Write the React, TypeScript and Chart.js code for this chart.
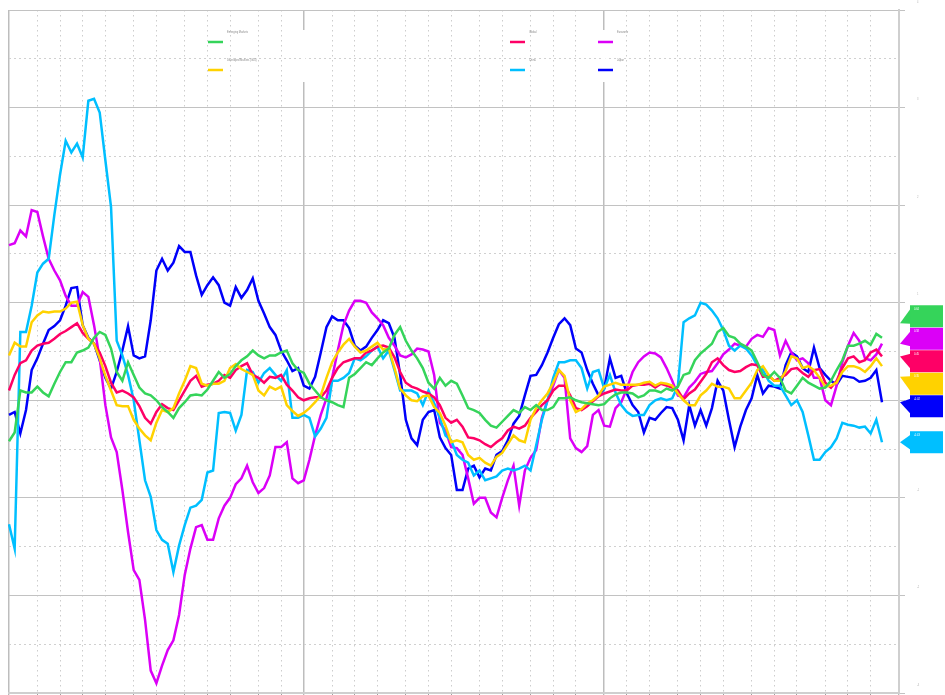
import React, { useEffect, useRef } from 'react';
import { Chart, registerables } from 'chart.js';

Chart.register(...registerables);

// ---------- categories (weekly, Fridays) ----------
const START_DATE = '2015-01-02';
const WEEK_COUNT = 158;

function buildWeekLabels(): string[] {
  const out: string[] = [];
  const d0 = new Date(START_DATE + 'T00:00:00Z').getTime();
  for (let i = 0; i < WEEK_COUNT; i++) {
    out.push(new Date(d0 + i * 7 * 86400000).toISOString().slice(0, 10));
  }
  return out;
}
const weekLabels = buildWeekLabels();

// ---------- series ----------
const seriesNames = [
  'Emerging Markets',
  'Developed Markets (G10)',
  'Global',
  'China',
  'Eurozone',
  'Japan',
];
const seriesColors = ['#35d45a', '#ffd200', '#fe0066', '#00bfff', '#db00f7', '#0000fa'];

const emergingMarkets = [
  -0.42, -0.33, 0.10, 0.08, 0.08, 0.14, 0.08, 0.04, 0.17, 0.29,
  0.39, 0.39, 0.49, 0.51, 0.54, 0.64, 0.70, 0.67, 0.53, 0.29,
  0.20, 0.39, 0.26, 0.13, 0.07, 0.05, 0, -0.07, -0.12, -0.18,
  -0.08, -0.02, 0.05, 0.06, 0.05, 0.11, 0.20, 0.29, 0.23, 0.27,
  0.35, 0.41, 0.45, 0.51, 0.46, 0.43, 0.46, 0.46, 0.49, 0.51,
  0.38, 0.31, 0.28, 0.17, 0.10, 0.03, 0, -0.02, -0.05, -0.07,
  0.23, 0.27, 0.33, 0.39, 0.36, 0.43, 0.49, 0.53, 0.67, 0.75,
  0.61, 0.51, 0.43, 0.33, 0.18, 0.12, 0.23, 0.15, 0.20, 0.17,
  0.05, -0.08, -0.10, -0.13, -0.20, -0.26, -0.28, -0.22, -0.16, -0.10,
  -0.13, -0.07, -0.10, -0.05, -0.10, -0.10, -0.07, 0.02, 0.02, 0.03,
  0, -0.02, -0.03, -0.04, -0.05, -0.04, 0.02, 0.06, 0.08, 0.08,
  0.07, 0.03, 0.05, 0.10, 0.10, 0.08, 0.12, 0.10, 0.14, 0.26,
  0.28, 0.41, 0.48, 0.53, 0.58, 0.70, 0.74, 0.66, 0.64, 0.58,
  0.55, 0.51, 0.39, 0.26, 0.23, 0.29, 0.23, 0.10, 0.07, 0.15,
  0.23, 0.18, 0.15, 0.12, 0.13, 0.20, 0.31, 0.41, 0.56, 0.56,
  0.58, 0.61, 0.57, 0.68, 0.64,
];

const developedG10 = [
  0.46, 0.59, 0.55, 0.55, 0.80, 0.87, 0.91, 0.90, 0.91, 0.91,
  0.94, 1.00, 1.01, 0.77, 0.63, 0.58, 0.43, 0.25, 0.10, -0.05,
  -0.06, -0.06, -0.20, -0.29, -0.36, -0.41, -0.23, -0.10, -0.12, -0.08,
  0.07, 0.20, 0.35, 0.33, 0.17, 0.15, 0.17, 0.17, 0.20, 0.33,
  0.37, 0.32, 0.29, 0.26, 0.10, 0.05, 0.14, 0.11, 0.14, -0.05,
  -0.11, -0.16, -0.13, -0.08, -0.02, 0.05, 0.23, 0.39, 0.49, 0.57,
  0.63, 0.55, 0.49, 0.51, 0.55, 0.59, 0.52, 0.53, 0.33, 0.12,
  0.05, 0, -0.01, 0.04, 0.05, -0.07, -0.13, -0.26, -0.43, -0.41,
  -0.43, -0.56, -0.61, -0.59, -0.64, -0.67, -0.58, -0.54, -0.45, -0.36,
  -0.41, -0.43, -0.20, -0.08, 0, 0.07, 0.18, 0.31, 0.25, 0,
  -0.12, -0.09, -0.03, 0, 0.05, 0.14, 0.16, 0.18, 0.16, 0.16,
  0.16, 0.16, 0.18, 0.19, 0.15, 0.18, 0.17, 0.15, 0.07, 0,
  -0.05, -0.05, 0.05, 0.10, 0.17, 0.14, 0.14, 0.12, 0.02, 0.02,
  0.10, 0.18, 0.31, 0.35, 0.26, 0.20, 0.20, 0.30, 0.45, 0.43,
  0.33, 0.35, 0.31, 0.23, 0.14, 0.15, 0.18, 0.29, 0.35, 0.35,
  0.33, 0.29, 0.35, 0.43, 0.35,
];

const globalIndex = [
  0.10, 0.26, 0.38, 0.41, 0.51, 0.56, 0.58, 0.59, 0.63, 0.68,
  0.71, 0.75, 0.79, 0.69, 0.63, 0.58, 0.49, 0.35, 0.18, 0.08,
  0.10, 0.07, 0.03, -0.06, -0.18, -0.24, -0.12, -0.04, -0.08, -0.10,
  0, 0.10, 0.20, 0.25, 0.14, 0.16, 0.17, 0.20, 0.26, 0.23,
  0.31, 0.35, 0.38, 0.26, 0.23, 0.18, 0.24, 0.23, 0.26, 0.16,
  0.10, 0.03, 0, 0.02, 0.03, 0.03, 0.10, 0.23, 0.33, 0.39,
  0.41, 0.43, 0.43, 0.49, 0.51, 0.55, 0.56, 0.54, 0.44, 0.29,
  0.18, 0.14, 0.12, 0.09, 0.07, 0.03, -0.05, -0.18, -0.23, -0.20,
  -0.27, -0.38, -0.39, -0.41, -0.45, -0.48, -0.43, -0.39, -0.31, -0.27,
  -0.29, -0.26, -0.18, -0.12, -0.05, 0, 0.10, 0.15, 0.15, 0.05,
  -0.08, -0.10, -0.06, -0.01, 0.04, 0.07, 0.09, 0.11, 0.10, 0.10,
  0.15, 0.16, 0.16, 0.17, 0.13, 0.17, 0.15, 0.13, 0.10, 0.01,
  0.07, 0.11, 0.19, 0.27, 0.39, 0.43, 0.36, 0.31, 0.29, 0.30,
  0.34, 0.37, 0.36, 0.24, 0.25, 0.20, 0.23, 0.26, 0.32, 0.33,
  0.28, 0.24, 0.31, 0.32, 0.18, 0.13, 0.20, 0.33, 0.43, 0.45,
  0.39, 0.41, 0.49, 0.52, 0.45,
];

const china = [
  -1.27, -1.52, 0.70, 0.70, 0.97, 1.31, 1.40, 1.45, 1.90, 2.31,
  2.66, 2.54, 2.63, 2.49, 3.07, 3.09, 2.95, 2.46, 1.98, 0.61,
  0.46, 0.26, 0, -0.41, -0.82, -0.99, -1.33, -1.43, -1.47, -1.76,
  -1.49, -1.28, -1.10, -1.08, -1.02, -0.74, -0.72, -0.13, -0.12, -0.13,
  -0.31, -0.15, 0.31, 0.29, 0.18, 0.28, 0.33, 0.26, 0.20, 0.31,
  -0.18, -0.18, -0.15, -0.18, -0.37, -0.29, -0.18, 0.20, 0.20, 0.23,
  0.28, 0.43, 0.41, 0.45, 0.51, 0.55, 0.43, 0.51, 0.31, 0.10,
  0.10, 0.10, 0.07, -0.05, 0.10, -0.03, -0.18, -0.36, -0.41, -0.56,
  -0.61, -0.64, -0.77, -0.72, -0.82, -0.80, -0.78, -0.72, -0.70, -0.72,
  -0.70, -0.67, -0.72, -0.46, -0.20, 0, 0.23, 0.39, 0.39, 0.41,
  0.41, 0.33, 0.12, 0.29, 0.31, 0.12, 0.26, 0.08, -0.05, -0.12,
  -0.16, -0.15, -0.15, -0.05, 0, 0.02, 0, 0.02, 0.15, 0.80,
  0.84, 0.87, 1.00, 0.98, 0.92, 0.84, 0.72, 0.56, 0.51, 0.56,
  0.53, 0.46, 0.36, 0.31, 0.20, 0.15, 0.15, 0.05, -0.05, 0,
  -0.12, -0.36, -0.61, -0.61, -0.53, -0.48, -0.39, -0.23, -0.25, -0.26,
  -0.28, -0.27, -0.34, -0.20, -0.43,
];

const eurozone = [
  1.59, 1.61, 1.74, 1.68, 1.95, 1.93, 1.68, 1.45, 1.33, 1.23,
  1.07, 0.97, 0.97, 1.11, 1.06, 0.77, 0.43, -0.05, -0.38, -0.53,
  -0.92, -1.35, -1.74, -1.84, -2.25, -2.77, -2.90, -2.72, -2.56, -2.46,
  -2.20, -1.79, -1.52, -1.30, -1.28, -1.43, -1.43, -1.21, -1.08, -1.00,
  -0.86, -0.80, -0.67, -0.84, -0.95, -0.90, -0.77, -0.48, -0.48, -0.43,
  -0.80, -0.85, -0.82, -0.61, -0.36, -0.15, 0.02, 0.23, 0.51, 0.77,
  0.92, 1.02, 1.02, 1.00, 0.90, 0.84, 0.77, 0.64, 0.56, 0.46,
  0.44, 0.47, 0.53, 0.52, 0.50, 0.26, -0.23, -0.31, -0.48, -0.49,
  -0.56, -0.80, -1.06, -1.00, -1.00, -1.15, -1.20, -1.00, -0.82, -0.67,
  -1.08, -0.72, -0.59, -0.51, -0.18, 0, 0.15, 0.31, 0.23, -0.39,
  -0.49, -0.53, -0.47, -0.15, -0.10, -0.26, -0.27, -0.08, -0.02, 0.12,
  0.29, 0.39, 0.45, 0.49, 0.48, 0.44, 0.33, 0.20, 0.05, 0.03,
  0.13, 0.19, 0.27, 0.29, 0.30, 0.38, 0.47, 0.52, 0.58, 0.56,
  0.55, 0.63, 0.67, 0.65, 0.74, 0.72, 0.46, 0.61, 0.49, 0.41,
  0.43, 0.38, 0.23, 0.23, 0, -0.05, 0.15, 0.39, 0.56, 0.69,
  0.61, 0.43, 0.41, 0.47, 0.58,
];

const japan = [
  -0.15, -0.12, -0.34, -0.10, 0.31, 0.43, 0.58, 0.72, 0.76, 0.82,
  0.97, 1.15, 1.16, 0.77, 0.64, 0.58, 0.41, 0.23, 0.12, 0.29,
  0.51, 0.76, 0.46, 0.43, 0.45, 0.82, 1.33, 1.45, 1.33, 1.41,
  1.58, 1.52, 1.52, 1.28, 1.08, 1.18, 1.26, 1.18, 1.00, 0.97,
  1.16, 1.05, 1.13, 1.25, 1.02, 0.89, 0.75, 0.67, 0.51, 0.41,
  0.30, 0.33, 0.15, 0.12, 0.24, 0.49, 0.75, 0.86, 0.82, 0.82,
  0.74, 0.56, 0.51, 0.55, 0.64, 0.72, 0.82, 0.79, 0.64, 0.26,
  -0.20, -0.39, -0.46, -0.20, -0.12, -0.10, -0.38, -0.49, -0.56, -0.92,
  -0.92, -0.70, -0.67, -0.79, -0.70, -0.72, -0.56, -0.52, -0.41, -0.24,
  -0.16, 0.05, 0.25, 0.26, 0.36, 0.49, 0.64, 0.78, 0.84, 0.77,
  0.53, 0.49, 0.31, 0.17, 0.05, 0.12, 0.43, 0.23, 0.25, 0.07,
  -0.05, -0.12, -0.33, -0.18, -0.20, -0.13, -0.07, -0.08, -0.20, -0.41,
  -0.05, -0.26, -0.10, -0.26, -0.08, 0.20, 0.10, -0.20, -0.48, -0.27,
  -0.10, 0.02, 0.26, 0.07, 0.15, 0.14, 0.12, 0.36, 0.49, 0.45,
  0.33, 0.29, 0.54, 0.33, 0.26, 0.20, 0.16, 0.25, 0.24, 0.23,
  0.19, 0.20, 0.23, 0.31, -0.02,
];

const seriesData = [emergingMarkets, developedG10, globalIndex, china, eurozone, japan];

// y axis
const Y_MIN = -3;
const Y_MAX = 4;
const Y_STEP = 0.5;

// ---------- helpers ----------
function isYearStart(i: any): boolean {
  if (typeof i !== 'number') return false;
  if (i === 0) return true;
  return weekLabels[i].slice(0, 4) !== weekLabels[i - 1].slice(0, 4);
}
function isMonthStart(i: any): boolean {
  if (typeof i !== 'number') return false;
  if (i === 0) return true;
  return weekLabels[i].slice(5, 7) !== weekLabels[i - 1].slice(5, 7);
}
function isWhole(v: any): boolean {
  return typeof v === 'number' && Math.abs(v - Math.round(v)) < 1e-9;
}

// legend layout: [column x, row y] for each series
const legendSlots = [
  [208, 42], [208, 70], [510, 42], [510, 70], [598, 42], [598, 70],
];
// legend panel band (hides the solid year lines behind it)
const LEGEND_BAND = { x1: 200, x2: 650, y1: 30, y2: 82 };

const legendPlugin = {
  id: 'customLegend',
  beforeDatasetsDraw(chart: any) {
    // legend panel: the solid year separators do not show through it
    const ctx = chart.ctx;
    const xs = chart.scales.x;
    ctx.save();
    ctx.fillStyle = '#ffffff';
    for (let i = 1; i < weekLabels.length - 1; i++) {
      if (!isYearStart(i)) continue;
      const px = xs.getPixelForValue(i);
      if (px > LEGEND_BAND.x1 && px < LEGEND_BAND.x2) {
        ctx.fillRect(px - 1.5, LEGEND_BAND.y1, 3, LEGEND_BAND.y2 - LEGEND_BAND.y1);
      }
    }
    ctx.restore();
  },
  afterDatasetsDraw(chart: any) {
    const ctx = chart.ctx;
    ctx.save();
    chart.data.datasets.forEach((ds: any, i: number) => {
      const [x, y] = legendSlots[i];
      ctx.strokeStyle = ds.borderColor;
      ctx.lineWidth = 2.5;
      ctx.beginPath();
      ctx.moveTo(x, y);
      ctx.lineTo(x + 15, y);
      ctx.stroke();
      ctx.fillStyle = '#8a8a8a';
      ctx.font = '2.6px "Liberation Sans", Arial, sans-serif';
      ctx.textBaseline = 'middle';
      ctx.textAlign = 'left';
      ctx.fillText(ds.label, x + 19, y - 10);
    });
    ctx.restore();
  },
};

const flagPlugin = {
  id: 'lastValueFlags',
  afterDraw(chart: any) {
    const ctx = chart.ctx;
    const area = chart.chartArea;
    const yScale = chart.scales.y;
    const H = 22.5;
    const items = chart.data.datasets.map((ds: any) => {
      const data = ds.data as number[];
      const v = data[data.length - 1];
      return { y: yScale.getPixelForValue(v), v, color: ds.borderColor };
    });
    const sorted = [...items].sort((a: any, b: any) => a.y - b.y);
    let clusters: any[] = sorted.map((it: any) => ({ items: [it], center: it.y }));
    let merged = true;
    while (merged) {
      merged = false;
      for (let i = 0; i < clusters.length - 1; i++) {
        const a = clusters[i];
        const b = clusters[i + 1];
        if (a.center + (a.items.length * H) / 2 > b.center - (b.items.length * H) / 2) {
          const its = [...a.items, ...b.items];
          const center = its.reduce((s: number, it: any) => s + it.y, 0) / its.length;
          clusters.splice(i, 2, { items: its, center });
          merged = true;
          break;
        }
      }
    }
    ctx.save();
    const boxLeft = area.right + 11;
    const boxW = 33;
    clusters.forEach((c: any) => {
      const n = c.items.length;
      c.items.forEach((it: any, k: number) => {
        const cy = c.center + (k - (n - 1) / 2) * H;
        const top = cy - 11;
        const tipY = Math.max(cy - 7, Math.min(cy + 7, it.y));
        ctx.fillStyle = it.color;
        ctx.fillRect(boxLeft, top, boxW, 22);
        ctx.beginPath();
        ctx.moveTo(area.right + 1, tipY);
        ctx.lineTo(boxLeft + 0.5, cy - 7.5);
        ctx.lineTo(boxLeft + 0.5, cy + 7.5);
        ctx.closePath();
        ctx.fill();
        ctx.fillStyle = '#ffffff';
        ctx.font = '2.6px "Liberation Sans", Arial, sans-serif';
        ctx.textBaseline = 'middle';
        ctx.textAlign = 'left';
        ctx.fillText(it.v.toFixed(2), boxLeft + 4, top + 4);
      });
    });
    ctx.restore();
  },
};

export default function App() {
  const canvasRef = useRef<HTMLCanvasElement | null>(null);

  useEffect(() => {
    document.body.style.margin = '0';
    document.body.style.overflow = 'hidden';
    const canvas = canvasRef.current;
    if (!canvas) return;
    const chart = new Chart(canvas, {
      type: 'line',
      data: {
        labels: weekLabels,
        datasets: seriesData.map((d, i) => ({
          label: seriesNames[i],
          data: d,
          borderColor: seriesColors[i],
          backgroundColor: seriesColors[i],
          borderWidth: 2.5,
          pointRadius: 0,
          pointHoverRadius: 0,
          tension: 0,
          fill: false,
        })),
      },
      options: {
        animation: false,
        responsive: false,
        maintainAspectRatio: false,
        devicePixelRatio: 1,
        layout: { padding: { left: 9, top: 10, right: 0, bottom: 0 } },
        plugins: {
          legend: { display: false },
          tooltip: { enabled: false },
          title: { display: false },
        },
        scales: {
          x: {
            type: 'category',
            offset: false,
            ticks: { display: false, autoSkip: false },
            grid: {
              color: (c: any) =>
                isYearStart(c.index) ? '#bdbdbd' : isMonthStart(c.index) ? '#cdcdcd' : 'rgba(0,0,0,0)',
              lineWidth: (c: any) => (isYearStart(c.index) ? 1.5 : 1),
              drawTicks: true,
              tickLength: 4,
              tickWidth: 1,
              tickColor: (c: any) => (isMonthStart(c.index) ? '#a0a0a0' : 'rgba(0,0,0,0)'),
            },
            border: {
              display: true,
              color: '#cfcfcf',
              width: 2,
              dash: (c: any) => (typeof c.index === 'number' && !isYearStart(c.index) ? [1.5, 3.5] : []),
            },
            afterFit: (s: any) => {
              s.height = 27;
              s.paddingLeft = 0;
              s.paddingRight = 0;
            },
          },
          y: {
            position: 'right',
            min: Y_MIN,
            max: Y_MAX,
            ticks: {
              stepSize: Y_STEP,
              callback: (v: any) => (isWhole(v) ? String(v) : ''),
              color: '#b4b4b4',
              font: { size: 2.6, family: '"Liberation Sans", Arial, sans-serif' },
              labelOffset: -8,
              padding: 12,
            },
            grid: {
              color: (c: any) => (c.tick && isWhole(c.tick.value) ? '#c2c2c2' : '#d0d0d0'),
              lineWidth: 1,
              drawTicks: true,
              tickLength: 6,
              tickColor: (c: any) => (c.tick && isWhole(c.tick.value) ? '#c2c2c2' : 'rgba(0,0,0,0)'),
            },
            border: {
              display: true,
              color: '#cfcfcf',
              width: 2,
              dash: (c: any) => (c.tick && !isWhole(c.tick.value) ? [2, 3] : []),
            },
            afterFit: (s: any) => {
              s.width = 46;
              s.paddingTop = 0;
              s.paddingBottom = 0;
            },
          },
        },
      },
      plugins: [legendPlugin, flagPlugin],
    } as any);
    return () => chart.destroy();
  }, []);

  return (
    <div style={{ width: 945, height: 695, overflow: 'hidden', position: 'relative', background: '#fff' }}>
      <canvas ref={canvasRef} width={945} height={720} style={{ display: 'block' }} />
    </div>
  );
}
